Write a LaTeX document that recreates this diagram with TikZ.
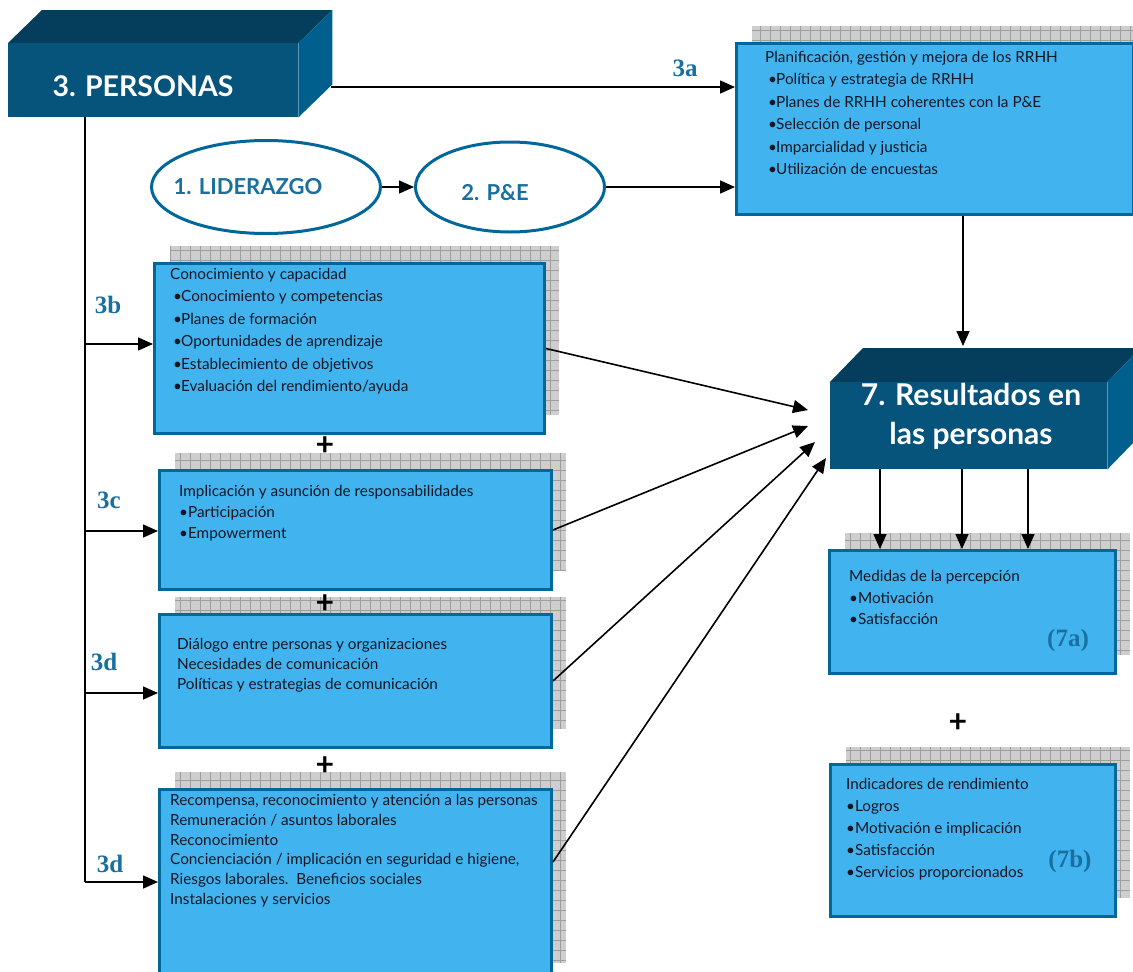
\documentclass[tikz,border=0pt]{standalone}
\usepackage{fontspec}
\setmainfont{Lato}
\newfontfamily\labfont{Liberation Serif}
\usetikzlibrary{arrows.meta,shapes.geometric,positioning}

\definecolor{boxblue}{RGB}{65,180,240}
\definecolor{edgeblue}{RGB}{0,103,155}
\definecolor{deepfront}{RGB}{6,84,124}
\definecolor{deeptop}{RGB}{4,62,92}
\definecolor{deepside}{RGB}{0,95,140}
\definecolor{labblue}{RGB}{25,112,160}
\definecolor{shadefill}{RGB}{206,206,206}
\definecolor{shadeline}{RGB}{158,158,158}
\definecolor{inktext}{RGB}{20,22,36}

\newcommand\bul{\hspace{3pt}\makebox[8pt][l]{•}}

% panel with its grey grid shadow: name, x, y, width, height
\newcommand\panel[5]{%
  \fill[shadefill] (#2+16,#3-17) rectangle ++(#4,#5);
  \draw[shadeline,line width=0.5pt,step=10pt] (#2+16,#3-17) grid ++(#4,#5);
  \draw[white,line width=0.8pt] (#2+16,#3-17) rectangle ++(#4,#5);
  \node[panel,minimum width=#4,minimum height=#5] (#1) at (#2,#3) {};}

\tikzset{
  panel/.style={draw=edgeblue,line width=3pt,fill=boxblue,anchor=north west,inner sep=0},
  deep/.style={fill=deepfront,anchor=north west,inner sep=0},
  oval/.style={ellipse,draw=edgeblue,line width=3pt,fill=white,inner sep=0},
  txt/.style={anchor=north west,inner sep=0,align=left,text=inktext},
  tag/.style={font=\labfont\fontsize{25}{25}\selectfont\bfseries,text=labblue,inner sep=0},
  ovaltxt/.style={font=\fontsize{22}{22}\selectfont\bfseries,text=labblue,inner sep=0},
  plus/.style={font=\fontsize{32}{32}\selectfont\bfseries,inner sep=0},
  arr/.style={-{Triangle[length=15pt,width=13pt]},line width=1.6pt},
  line/.style={line width=1.6pt}
}

\begin{document}
\begin{tikzpicture}[x=1pt,y=-1pt]
\useasboundingbox (0,0) rectangle (1133,972);

% 3. personas block
\node[deep,minimum width=290,minimum height=74] (p3) at (8,43) {};
\fill[deeptop] (p3.north west) -- ++(34,-33) -- ([shift={(34,-33)}]p3.north east) -- (p3.north east) -- cycle;
\fill[deepside] (p3.north east) -- ++(34,-33) -- ([shift={(34,-33)}]p3.south east) -- (p3.south east) -- cycle;
\node[white,font=\fontsize{28.5}{28.5}\selectfont\bfseries,inner sep=0] (p3txt) at (143,86) {3. PERSONAS};

% 7. resultados block
\node[deep,minimum width=277,minimum height=87] (res7) at (830,382) {};
\fill[deeptop] (res7.north west) -- ++(33,-34) -- ([shift={(33,-34)}]res7.north east) -- (res7.north east) -- cycle;
\fill[deepside] (res7.north east) -- ++(33,-34) -- ([shift={(33,-34)}]res7.south east) -- (res7.south east) -- cycle;
\node[white,font=\fontsize{30}{39}\selectfont\bfseries,align=center,inner sep=0] (res7txt) at (971,416) {7. Resultados en\\las personas};

% panels
\panel{rrhh}{735}{42}{397}{171}
\panel{b3}{153}{262}{390}{170}
\panel{b4}{158}{469}{392}{119}
\panel{b5}{158}{613}{392}{133}
\panel{b6}{158}{788}{392}{192}
\panel{r7a}{828}{549}{286}{123}
\panel{r7b}{829}{763}{285}{152}

% ovals
\node[oval,minimum width=229,minimum height=93] (lid) at (266,187) {};
\node[oval,minimum width=189,minimum height=90] (pye) at (510,187) {};
\node[ovaltxt] (lidtxt) at (248,187) {1. LIDERAZGO};
\node[ovaltxt] (pyetxt) at (495,193) {2. P\&E};

% texts
\node[txt,font=\fontsize{15.3}{22.5}\selectfont] (rrhhtxt) at (765,51) {Planificación, gestión y mejora de los RRHH\\
\bul Política y estrategia de RRHH\\
\bul Planes de RRHH coherentes con la P\&E\\
\bul Selección de personal\\
\bul Imparcialidad y justicia\\
\bul Utilización de encuestas};
\node[txt,font=\fontsize{15.3}{22.4}\selectfont] (b3txt) at (170,268) {Conocimiento y capacidad\\
\bul Conocimiento y competencias\\
\bul Planes de formación\\
\bul Oportunidades de aprendizaje\\
\bul Establecimiento de objetivos\\
\bul Evaluación del rendimiento/ayuda};
\node[txt,font=\fontsize{15.3}{21}\selectfont] (b4txt) at (179,485) {Implicación y asunción de responsabilidades\\
•Participación\\
•Empowerment};
\node[txt,font=\fontsize{15.3}{20}\selectfont] (b5txt) at (177,638) {Diálogo entre personas y organizaciones\\
Necesidades de comunicación\\
Políticas y estrategias de comunicación};
\node[txt,font=\fontsize{15.3}{19.8}\selectfont] (b6txt) at (170,794) {Recompensa, reconocimiento y atención a las personas\\
Remuneración / asuntos laborales\\
Reconocimiento\\
Concienciación / implicación en seguridad e higiene,\\
Riesgos laborales.\ \ Beneficios sociales\\
Instalaciones y servicios};
\node[txt,font=\fontsize{15.3}{21.7}\selectfont] (r7atxt) at (849,570) {Medidas de la percepción\\
•Motivación\\
•Satisfacción};
\node[txt,font=\fontsize{15.3}{22}\selectfont] (r7btxt) at (846,778) {Indicadores de rendimiento\\
•Logros\\
•Motivación e implicación\\
•Satisfacción\\
•Servicios proporcionados};

% tags
\node[tag] (t3a) at (685,68) {3a};
\node[tag] (t3b) at (108,305) {3b};
\node[tag] (t3c) at (109,500) {3c};
\node[tag] (t3d) at (104,662) {3d};
\node[tag] (t3e) at (110,864) {3d};
\node[tag] (t7a) at (1068,640) {(7a)};
\node[tag] (t7b) at (1070,861) {(7b)};

% plus signs
\node[plus] (plus1) at (325,446) {+};
\node[plus] (plus2) at (325,604) {+};
\node[plus] (plus3) at (325,766) {+};
\node[plus] (plus4) at (958,723) {+};

% connectors
\coordinate (p3out) at (331,87);
\coordinate (trunk) at (85,117);
\draw[arr] (p3out) -- (p3out -| rrhh.west);
\draw[arr] (lid.east) -- (pye.west);
\draw[arr] (pye.east) -- (pye.east -| rrhh.west);
\draw[line] (trunk) -- (85,882);
\foreach \nm/\yy in {b3/344,b4/531,b5/693,b6/882}
  \draw[arr] (85,\yy) -- (\nm.west |- 0,\yy);

\coordinate (in1) at (808,410);
\coordinate (in2) at (808,426);
\coordinate (in3) at (815,442);
\coordinate (in4) at (826,458);
\draw[arr] (b3.east) -- (in1);
\draw[arr] (b4.east) -- (in2);
\draw[arr] (b5.east) -- (in3);
\draw[arr] (b6.east |- 0,862) -- (in4);

\coordinate (top7) at (963,346);
\draw[arr] (rrhh.south -| top7) -- (top7);
\foreach \xx in {880,962,1028}
  \draw[arr] (res7.south -| \xx,0) -- (r7a.north -| \xx,0);

\end{tikzpicture}
\end{document}
